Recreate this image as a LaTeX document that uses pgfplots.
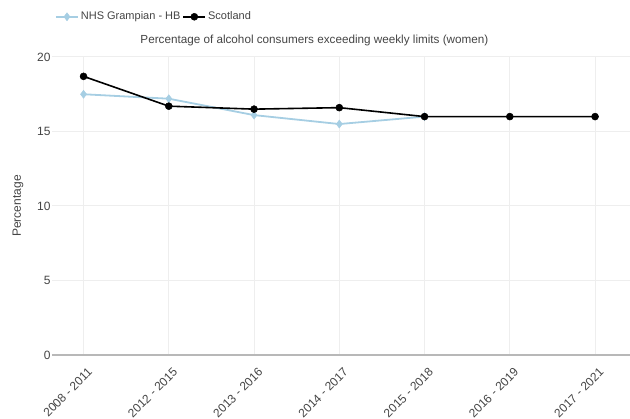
\documentclass[border=0pt]{standalone}
\usepackage{pgfplots}
\pgfplotsset{compat=1.18}
\usepackage{fontspec}
\setmainfont{Liberation Sans}
\definecolor{lblue}{HTML}{A6CEE3}
\definecolor{gridc}{HTML}{EEEEEE}
\definecolor{txt}{HTML}{444444}
\begin{document}
\begin{tikzpicture}[x=1pt,y=1pt]
\begin{axis}[
  at={(52pt,64pt)}, anchor=south west,
  scale only axis, width=578pt, height=298pt,
  xmin=-0.37, xmax=6.41, ymin=0, ymax=20,
  clip=false,
  axis line style={draw=none},
  xtick={0,1,2,3,4,5,6},
  xticklabels={2008 - 2011,2012 - 2015,2013 - 2016,2014 - 2017,2015 - 2018,2016 - 2019,2017 - 2021},
  ytick={0,5,10,15,20},
  major tick length=0pt,
  xmajorgrids, ymajorgrids,
  grid style={gridc, line width=1pt},
  /pgf/number format/assume math mode=true,
  tick label style={font=\fontsize{12}{14}\selectfont, text=txt},
  x tick label style={xshift=3.5pt, yshift=-7pt, rotate=45, anchor=north east, font=\fontsize{12}{14}\selectfont},
  yticklabel style={xshift=2pt},
  ylabel={Percentage},
  ylabel style={font=\fontsize{12}{14}\selectfont, text=txt, at={(rel axis cs:-0.0588,0.5)}, anchor=center},
  title={Percentage of alcohol consumers exceeding weekly limits (women)},
  title style={font=\fontsize{11.7}{14}\selectfont, text=txt, at={(rel axis cs:0.454,1)}, anchor=base, yshift=7pt},
  legend style={draw=none, fill=none, inner sep=0pt, font=\fontsize{11}{13}\selectfont, text=txt,
    at={(rel axis cs:0.005,1.135)}, anchor=west, legend columns=2,
    /tikz/every even column/.append style={column sep=0pt},
    nodes={inner sep=2pt}},
  legend cell align=left,
  legend image code/.code={%
    \draw[mark repeat=2,mark phase=2,#1] plot coordinates {(0pt,0pt) (11pt,0pt) (22pt,0pt)};},
]
\draw[draw=black!28, line width=1.5pt] (axis cs:-0.37,0) -- (axis cs:6.41,0);
\addplot[lblue, line width=1.8pt, mark=diamond*, mark size=4pt, mark options={fill=lblue, draw=lblue, line width=0.5pt}]
  coordinates {(0,17.5) (1,17.2) (2,16.1) (3,15.5) (4,16.0)};
\addlegendentry{NHS Grampian - HB}
\addplot[black, line width=1.6pt, mark=*, mark size=3.5pt, mark options={line width=0.5pt}]
  coordinates {(0,18.7) (1,16.7) (2,16.5) (3,16.6) (4,16.0) (5,16.0) (6,16.0)};
\addlegendentry{Scotland}
\end{axis}
\pgfresetboundingbox
\path (0,0) rectangle (630,419);
\end{tikzpicture}
\end{document}
